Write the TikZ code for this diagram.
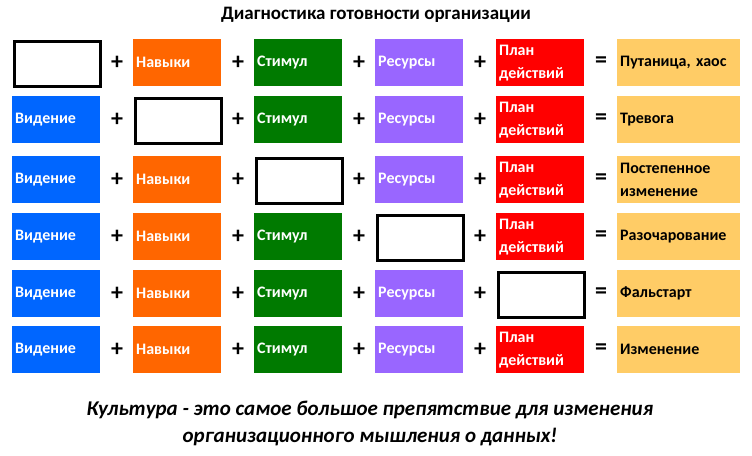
\documentclass[tikz,border=0pt]{standalone}
\usepackage{fontspec}
\setmainfont{Carlito}
\definecolor{cb}{HTML}{0066FF}
\definecolor{co}{HTML}{FF6600}
\definecolor{cg}{HTML}{007A00}
\definecolor{cp}{HTML}{9966FF}
\definecolor{cr}{HTML}{FF0000}
\definecolor{cy}{HTML}{FFCC66}
\tikzset{
 cell/.style={anchor=north west,minimum width=88pt,minimum height=47pt,text width=82pt,align=left,inner sep=3pt,font=\fontsize{16}{23}\selectfont\bfseries,text=white},
 empty/.style={anchor=north west,draw=black,line width=2.8pt,minimum width=86pt,minimum height=45pt,inner sep=0pt},
 res/.style={cell,fill=cy,text=black,minimum width=123pt,text width=117pt},
 op/.style={font=\fontsize{24}{24}\selectfont\bfseries}
}
\begin{document}
\begin{tikzpicture}[x=1pt,y=-1pt]
\useasboundingbox (0,0) rectangle (752,455);
\node[font=\fontsize{19}{19}\selectfont\bfseries] (title) at (376,15) {Диагностика готовности организации};
\foreach \r/\yy/\e/\res in {1/39/1/{Путаница, хаос},2/96/2/Тревога,3/156/3/{Постепенное\\изменение},4/213/4/Разочарование,5/270/5/Фальстарт,6/326/0/Изменение}{
 \ifnum\e=1 \node[empty] (a\r) at (13.4,\yy+1.4) {}; \else \node[cell,fill=cb] (a\r) at (12,\yy) {Видение}; \fi
 \ifnum\e=2 \node[empty] (b\r) at (134.4,\yy+1.4) {}; \else \node[cell,fill=co] (b\r) at (133,\yy) {Навыки}; \fi
 \ifnum\e=3 \node[empty] (c\r) at (255.4,\yy+1.4) {}; \else \node[cell,fill=cg] (c\r) at (254,\yy) {Стимул}; \fi
 \ifnum\e=4 \node[empty] (d\r) at (376.4,\yy+1.4) {}; \else \node[cell,fill=cp] (d\r) at (375,\yy) {Ресурсы}; \fi
 \ifnum\e=5 \node[empty] (f\r) at (497.4,\yy+1.4) {}; \else \node[cell,fill=cr] (f\r) at (496,\yy) {План\\действий}; \fi
 \node[res] (g\r) at (617,\yy) {\res};
 \node[op] (p1\r) at (117,\yy+24) {+};
 \node[op] (p2\r) at (238,\yy+24) {+};
 \node[op] (p3\r) at (359,\yy+24) {+};
 \node[op] (p4\r) at (480,\yy+24) {+};
 \node[op] (eq\r) at (601,\yy+23) {=};
}
\node[font=\fontsize{21}{27}\selectfont\bfseries\itshape,align=center] (foot) at (370,423) {Культура - это самое большое препятствие для изменения\\организационного мышления о данных!};
\end{tikzpicture}
\end{document}
